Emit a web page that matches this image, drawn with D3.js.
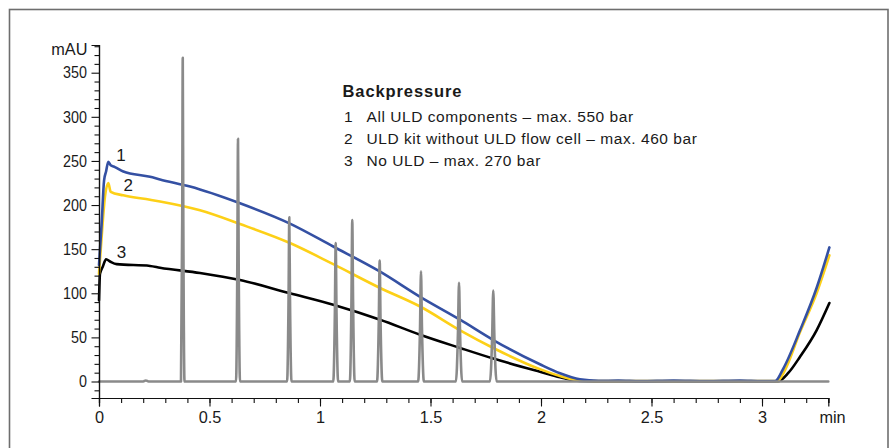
<!DOCTYPE html>
<html><head><meta charset="utf-8">
<script src="https://cdn.jsdelivr.net/npm/d3@7"></script>
<style>
body{margin:0;background:#fff;}
svg{display:block;}
text{font-family:"Liberation Sans",Arial,sans-serif;fill:#1a1a1a;}
</style></head><body>
<svg id="chart" width="892" height="448"></svg>
<script>
// ---------- data ----------
const xDomain = [0, 3.3];
const yDomain = [-18.7, 381.4];
const xMajorTicks = [0, 0.5, 1, 1.5, 2, 2.5, 3];
const xMinorTicks = [0,0.1,0.2,0.3,0.4,0.5,0.6,0.7,0.8,0.9,1,1.1,1.2,1.3,1.4,1.5,1.6,1.7,1.8,1.9,2,2.1,2.2,2.3,2.4,2.5,2.6,2.7,2.8,2.9,3,3.1,3.2,3.3];
const yMajorTicks = [0, 50, 100, 150, 200, 250, 300, 350];
const yMinorTicks = [-10,10,20,30,40,60,70,80,90,110,120,130,140,160,170,180,190,210,220,230,240,260,270,280,290,310,320,330,340,360,370,380];
const xUnit = "min";
const yUnit = "mAU";

// curve 1: All ULD components (blue)
const curve1 = [[0,132],[0.012,179],[0.023,228],[0.032,238],[0.042,249],[0.053,245],[0.072,243],[0.11,238],[0.231,232],[0.276,229],[0.412,221],[0.638,202],[0.864,179],[1.06,153],[1.272,124.5],[1.453,96],[1.634,70],[1.784,47],[1.995,19.5],[2.086,9.3],[2.176,2.5],[2.26,0.8],[2.35,1],[2.45,0.4],[2.6,1],[2.75,0.5],[2.9,1],[3.0,0.5],[3.06,0.6],[3.097,15],[3.172,58],[3.247,106],[3.305,152]];
// curve 2: ULD kit without ULD flow cell (yellow)
const curve2 = [[0,122],[0.012,164],[0.027,209.5],[0.042,225],[0.053,215],[0.11,211],[0.231,206],[0.276,204],[0.457,194],[0.638,178.5],[0.864,157],[1.06,133],[1.272,106],[1.453,85],[1.634,58],[1.784,38],[1.995,14],[2.086,6.2],[2.176,1.2],[2.3,0.5],[2.6,0.6],[2.9,0.5],[3.07,0.5],[3.1,11],[3.172,56],[3.247,100],[3.305,143]];
// curve 3: No ULD (black)
const curve3 = [[0,92],[0.0045,122],[0.017,130],[0.032,138.5],[0.05,136],[0.08,133],[0.231,131],[0.276,129],[0.457,123],[0.638,115],[0.864,100],[1.06,87],[1.272,70],[1.453,53],[1.634,38],[1.784,26],[1.995,11],[2.086,4.8],[2.176,0.6],[2.3,0.3],[3.072,0.3],[3.12,10],[3.172,28],[3.247,58],[3.305,89]];
// chromatogram trace (gray)
const peakTrace = [[0,0],[0.2,0],[0.212,1.2],[0.224,0],
  [0.371,0],[0.3765,183],[0.379,367],[0.3815,183],[0.387,0],
  [0.620,0],[0.626,137],[0.629,275],[0.632,137],[0.638,0],
  [0.851,0],[0.8577,93],[0.861,186],[0.8643,93],[0.871,0],
  [1.060,0],[1.0673,78],[1.071,157],[1.0747,78],[1.082,0],
  [1.135,0],[1.1423,91],[1.146,183],[1.1497,91],[1.157,0],
  [1.258,0],[1.266,68],[1.270,137],[1.274,68],[1.282,0],
  [1.444,0],[1.4527,62],[1.457,125],[1.4613,62],[1.470,0],
  [1.615,0],[1.6243,56],[1.629,112],[1.6337,56],[1.643,0],
  [1.769,0],[1.779,51],[1.784,103],[1.789,51],[1.799,0],
  [3.3,0]];

const legendTitle = "Backpressure";
const legendNums = ["1", "2", "3"];
const legendTexts = ["All ULD components \u2013 max. 550 bar", "ULD kit without ULD flow cell \u2013 max. 460 bar", "No ULD \u2013 max. 270 bar"];
const curveLabels = [{n:"1", t:0.1, v:250}, {n:"2", t:0.132, v:216}, {n:"3", t:0.102, v:140}];

// ---------- drawing ----------
const svg = d3.select("#chart");
const x = d3.scaleLinear().domain(xDomain).range([99, 828.3]);
const y = d3.scaleLinear().domain(yDomain).range([398, 45]);

// frame
svg.append("rect").attr("x", 9.5).attr("y", 9.5).attr("width", 878.5).attr("height", 460)
  .attr("fill", "none").attr("stroke", "#6e6e6e").attr("stroke-width", 1.6);

const line = d3.line().x(d => x(d[0])).y(d => y(d[1])).curve(d3.curveMonotoneX);
const series = [
  {data: curve3, color: "#000000"},
  {data: curve2, color: "#fdd017"},
  {data: curve1, color: "#3450a3"},
  {data: peakTrace, color: "#8a8a8a"}
];
svg.append("g").selectAll("path").data(series).join("path")
  .attr("d", d => line(d.data)).attr("fill", "none")
  .attr("stroke", d => d.color).attr("stroke-width", 2.6)
  .attr("stroke-linejoin", "round").attr("stroke-linecap", "round");

// axes
const gy = svg.append("g").attr("transform", "translate(99,0)");
gy.call(d3.axisLeft(y).tickValues(yMinorTicks).tickSize(4.5).tickFormat(""));
const gyMajor = gy.append("g").call(d3.axisLeft(y).tickValues(yMajorTicks).tickSize(7.5).tickPadding(4.5).tickFormat(d3.format("d")));
const gx = svg.append("g").attr("transform", "translate(0,398)");
gx.call(d3.axisBottom(x).tickValues(xMinorTicks).tickSize(5).tickFormat(""));
gx.append("g").call(d3.axisBottom(x).tickValues(xMajorTicks).tickSize(8.5).tickPadding(4.5).tickFormat(d => String(d)));
svg.selectAll(".domain").attr("stroke", "#111").attr("stroke-width", 1.2);
svg.selectAll(".tick line").attr("stroke", "#111").attr("stroke-width", 1.1);
svg.selectAll(".tick text").attr("font-size", 16.3).attr("fill", "#1a1a1a")
  .attr("font-family", "'Liberation Sans',Arial,sans-serif");
// condensed look for the y tick digits
gyMajor.selectAll(".tick text").each(function() {
  const w = this.getComputedTextLength();
  this.setAttribute("textLength", (w * 0.88).toFixed(2));
  this.setAttribute("lengthAdjust", "spacingAndGlyphs");
});

svg.append("text").attr("x", 87.5).attr("y", 55).attr("text-anchor", "end").attr("font-size", 16.3).text(yUnit);
svg.append("text").attr("x", 832.5).attr("y", 423.3).attr("text-anchor", "middle").attr("font-size", 16.3).text(xUnit);

// curve labels
svg.append("g").selectAll("text").data(curveLabels).join("text")
  .attr("x", d => x(d.t)).attr("y", d => y(d.v)).attr("text-anchor", "middle")
  .attr("font-size", 17).text(d => d.n);

// legend
const lg = svg.append("g");
lg.append("text").attr("x", 342.5).attr("y", 97).attr("font-size", 16.5).attr("font-weight", "bold")
  .attr("letter-spacing", 0.9).text(legendTitle);
legendNums.forEach((n, i) => {
  lg.append("text").attr("x", 344).attr("y", 122 + i * 22.2).attr("font-size", 15.5).text(n);
  lg.append("text").attr("x", 366.5).attr("y", 122 + i * 22.2).attr("font-size", 15.5)
    .attr("letter-spacing", 0.55).text(legendTexts[i]);
});
</script></body></html>
